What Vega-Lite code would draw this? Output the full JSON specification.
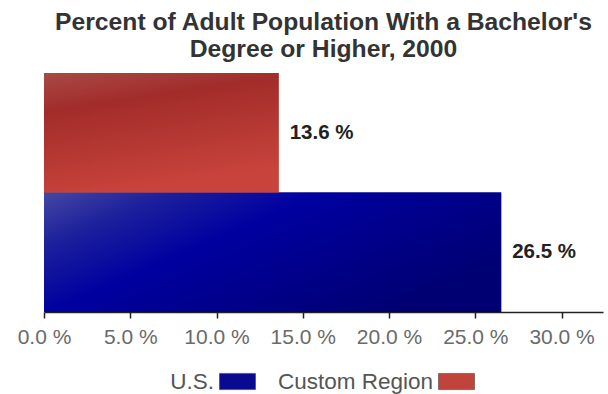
{
  "$schema": "https://vega.github.io/schema/vega-lite/v6.json",
  "width": 559,
  "height": 239,
  "autosize": {"type": "none"},
  "padding": {"left": 44, "top": 73, "right": 5, "bottom": 82},
  "title": {
    "text": ["Percent of Adult Population With a Bachelor's", "Degree or Higher, 2000"],
    "font": "Liberation Sans",
    "fontSize": 24.7,
    "fontWeight": "bold",
    "color": "#333333",
    "anchor": "middle",
    "lineHeight": 27,
    "offset": 11
  },
  "data": {
    "values": [
      {"region": "Custom Region", "pct": 13.6},
      {"region": "U.S.", "pct": 26.5}
    ]
  },
  "encoding": {
    "y": {
      "field": "region",
      "type": "nominal",
      "sort": ["Custom Region", "U.S."],
      "scale": {"paddingInner": 0, "paddingOuter": 0},
      "axis": null
    },
    "x": {
      "field": "pct",
      "type": "quantitative",
      "scale": {"domain": [0, 32.4], "nice": false},
      "axis": {
        "values": [0, 5, 10, 15, 20, 25, 30],
        "labelExpr": "format(datum.value, '.1f') + ' %'",
        "grid": false,
        "title": null,
        "domainColor": "#222222",
        "domainWidth": 1.5,
        "tickColor": "#222222",
        "tickSize": 6,
        "tickWidth": 1.5,
        "labelFont": "Liberation Sans",
        "labelFontSize": 21,
        "labelColor": "#6a6a6a",
        "labelPadding": 8,
        "labelFlush": false
      }
    }
  },
  "layer": [
    {
      "mark": {"type": "bar"},
      "encoding": {
        "color": {
          "field": "region",
          "type": "nominal",
          "scale": {"domain": ["U.S.", "Custom Region"], "range": ["#0a0a90", "#c0443c"]},
          "legend": {
            "orient": "bottom",
            "direction": "horizontal",
            "title": " ",
            "titleOrient": "left",
            "titlePadding": 48,
            "titleFontSize": 22,
            "symbolType": "M-1,-0.45H1V0.45H-1Z",
            "symbolSize": 1296,
            "symbolStrokeColor": "#333333",
            "symbolStrokeWidth": 0.5,
            "labelFont": "Liberation Sans",
            "labelFontSize": 22.5,
            "labelColor": "#555555",
            "labelAlign": "right",
            "labelOffset": -42,
            "labelLimit": 300,
            "columnPadding": 20,
            "offset": 16
          }
        }
      }
    },
    {
      "transform": [{"filter": "datum.region === 'U.S.'"}],
      "mark": {
        "type": "bar",
        "color": {
          "gradient": "linear",
          "x1": 0, "y1": 0, "x2": 1, "y2": 0.6,
          "stops": [
            {"offset": 0, "color": "#4448a2"},
            {"offset": 0.2, "color": "#1c209c"},
            {"offset": 0.45, "color": "#0000a0"},
            {"offset": 1, "color": "#000072"}
          ]
        }
      },
      "encoding": {}
    },
    {
      "transform": [{"filter": "datum.region === 'Custom Region'"}],
      "mark": {
        "type": "bar",
        "color": {
          "gradient": "linear",
          "x1": 0, "y1": 0, "x2": 0.3, "y2": 1,
          "stops": [
            {"offset": 0, "color": "#a84a45"},
            {"offset": 0.3, "color": "#a22c2a"},
            {"offset": 1, "color": "#c8433b"}
          ]
        }
      },
      "encoding": {}
    },
    {
      "transform": [{"calculate": "format(datum.pct, '.1f') + ' %'", "as": "label"}],
      "mark": {
        "type": "text",
        "align": "left",
        "baseline": "middle",
        "dx": 11,
        "font": "Liberation Sans",
        "fontSize": 20.5,
        "fontWeight": "bold",
        "color": "#222222"
      },
      "encoding": {"text": {"field": "label", "type": "nominal"}}
    }
  ],
  "config": {
    "view": {"stroke": null},
    "legend": {"layout": {"bottom": {"anchor": "middle"}}}
  }
}
